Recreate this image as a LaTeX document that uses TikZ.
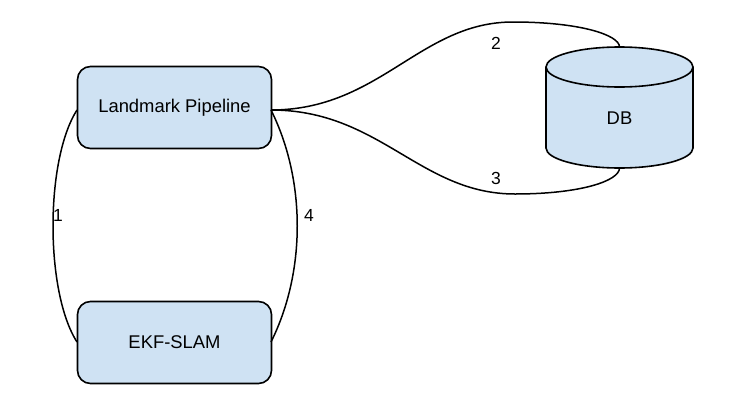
\documentclass[tikz,border=0pt]{standalone}
\usepackage{fontspec}
\setmainfont{Liberation Sans}
\definecolor{boxfill}{HTML}{CFE2F3}
\begin{document}
\begin{tikzpicture}[x=1pt,y=-1pt,
  box/.style={draw=black, line width=1.6pt, fill=boxfill, rounded corners=13pt,
    minimum width=194pt, minimum height=82pt, inner sep=0pt, font=\fontsize{18.4}{21}\selectfont},
  conn/.style={draw=black, line width=1.5pt},
  lbl/.style={inner sep=0pt, font=\fontsize{17.5}{20}\selectfont}]
\useasboundingbox (0,0) rectangle (753,410);
\node[box] (lp) at (174.5,107.5) {Landmark Pipeline};
\node[box] (ekf) at (174.5,342.5) {EKF-SLAM};
% cylinder
\fill[boxfill] (546,67) -- (546,148) arc[start angle=180, end angle=0, x radius=73.5, y radius=20]
  -- (693,67) arc[start angle=0, end angle=-180, x radius=73.5, y radius=20] -- cycle;
\draw[line width=1.6pt] (619.5,67) ellipse [x radius=73.5, y radius=20];
\draw[line width=1.6pt] (546,67) -- (546,148) arc[start angle=180, end angle=0, x radius=73.5, y radius=20] -- (693,67);
\node[inner sep=0pt, font=\fontsize{18.4}{21}\selectfont] (db) at (619.5,118) {DB};
\coordinate (dbtop) at (619.5,47);
\coordinate (dbbot) at (619.5,168);
\coordinate (lpw) at (77,110);
\coordinate (lpe) at (271,110);
\coordinate (ekfw) at (77,342);
\coordinate (ekfe) at (271,342);
% connectors
\draw[conn] (lpw) .. controls (45,160) and (45,292) .. (ekfw);
\draw[conn] (lpe) .. controls (306,180) and (306,272) .. (ekfe);
\draw[conn] (lpe) .. controls (380,110) and (420,22) .. (513,22) .. controls (580,22) and (619.5,35) .. (dbtop);
\draw[conn] (lpe) .. controls (380,110) and (420,194) .. (515,194) .. controls (580,194) and (619.5,181) .. (dbbot);
% labels
\node[lbl] (l1) at (58,215) {1};
\node[lbl] (l4) at (309,215) {4};
\node[lbl] (l2) at (496,43) {2};
\node[lbl] (l3) at (496,178) {3};
\end{tikzpicture}
\end{document}
